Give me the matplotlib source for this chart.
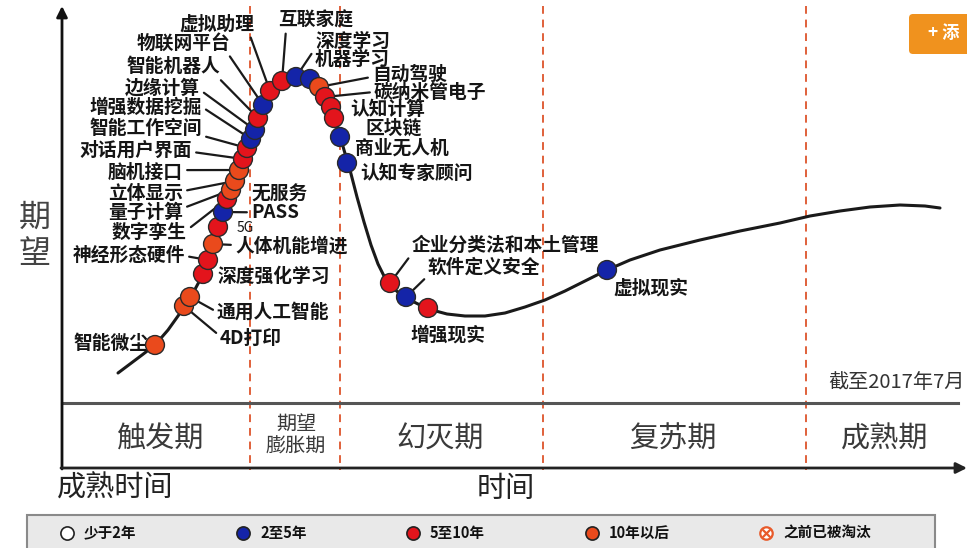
import matplotlib
matplotlib.use("Agg")
import matplotlib.pyplot as plt
from matplotlib.patches import Rectangle, FancyBboxPatch

plt.rcParams['font.family'] = ['Noto Sans CJK SC', 'DejaVu Sans']

# 曲线（时间, 期望）
curve_t = [118, 130, 142, 155, 168, 178, 186, 193, 200, 206, 212, 218, 224, 230,
           236, 242, 248, 254, 260, 266, 273, 281, 290, 298, 306, 314, 320, 326,
           331, 335, 339, 344, 350, 357, 364, 371, 378, 385, 392, 400, 410, 420,
           432, 447, 465, 485, 505, 525, 545, 565, 585, 607, 630, 660, 700, 740,
           780, 810, 840, 870, 900, 925, 940]
curve_e = [373, 364, 355, 345, 330, 316, 304, 293, 280, 266, 247, 228, 210, 195,
           180, 164, 146, 128, 112, 98, 88, 81, 77, 75, 76, 80, 86, 97,
           107, 118, 132, 150, 170, 197, 222, 245, 264, 278, 287, 294, 300, 305,
           310, 314, 316, 316, 313, 307, 300, 291, 281, 270, 260, 250, 240, 231,
           223, 216, 211, 207, 205, 206, 208]

# 技术点
tech_names = ['智能微尘', '4D打印', '通用人工智能', '深度强化学习', '神经形态硬件',
              '人体机能增进', '5G', '无服务\nPASS', '数字孪生', '量子计算', '立体显示',
              '脑机接口', '对话用户界面', '智能工作空间', '增强数据挖掘', '边缘计算',
              '智能机器人', '物联网平台', '虚拟助理', '互联家庭', '深度学习', '机器学习',
              '自动驾驶', '碳纳米管电子', '认知计算', '区块链', '商业无人机',
              '认知专家顾问', '企业分类法和本土管理', '软件定义安全', '增强现实', '虚拟现实']
tech_t = [155, 184, 190, 203, 208, 213, 218, 223, 227, 231, 235, 239, 243, 247,
          251, 255, 258, 263, 270, 282, 296, 310, 319, 325, 331, 334, 340, 347,
          390, 406, 428, 607]
tech_e = [345, 306, 297, 274, 260, 244, 227, 212, 199, 190, 181, 170, 159, 148,
          139, 130, 118, 105, 91, 81, 77, 79, 87, 97, 107, 118, 137, 163,
          283, 297, 308, 270]
tech_cat = ['10', '10', '10', '5', '5', '10', '5', '2', '5', '10', '10', '10', '5', '5',
            '2', '2', '5', '2', '5', '5', '2', '2', '10', '5', '5', '5', '2', '2',
            '5', '2', '5', '2']

# 标签排版 (x, y, ha, 引线起点relpos 或 None)
label_layout = [
    (148, 343, 'right', None),
    (220, 338, 'left', (0, 0.6)),
    (217, 312, 'left', (0, 0.5)),
    (217, 276, 'left', None),
    (185, 255, 'right', (1, 0.45)),
    (235, 246, 'left', (0, 0.55)),
    (237, 228, 'left', None),
    (251, 203, 'left', (0, 0.25)),
    (187, 232, 'right', (1, 0.6)),
    (183, 212, 'right', (1, 0.7)),
    (183, 193, 'right', (1, 0.6)),
    (183, 172, 'right', (1, 0.6)),
    (192, 150, 'right', (1, 0.4)),
    (202, 128, 'right', (1, 0.1)),
    (202, 107, 'right', (1, 0.5)),
    (200, 88, 'right', (1, 0.4)),
    (220, 67, 'right', (0.97, 0.0)),
    (230, 43, 'right', (0.97, 0.0)),
    (217, 24, 'center', (0.93, 0.0)),
    (316, 20, 'center', (0.1, 0.0)),
    (315, 41, 'left', (0, 0.1)),
    (315, 59, 'left', None),
    (372, 74, 'left', (0, 0.35)),
    (374, 92, 'left', (0, 0.5)),
    (350, 109, 'left', None),
    (365, 128, 'left', None),
    (355, 148, 'left', None),
    (360, 173, 'left', None),
    (412, 245, 'left', (0.0, 0.05)),
    (428, 267, 'left', (0.0, 0.05)),
    (410, 335, 'left', None),
    (613, 288, 'left', None),
]

cat_colors = {'2': '#1424a8', '5': '#e3141c', '10': '#ea4a1c'}

phase_bounds = [250, 340, 543, 806]
phase_names = ['触发期', '期望\n膨胀期', '幻灭期', '复苏期', '成熟期']
phase_centers = [160, 296, 440, 673, 885]

legend_labels = ['少于2年', '2至5年', '5至10年', '10年以后', '之前已被淘汰']
legend_faces = ['white', '#1424a8', '#e3141c', '#ea4a1c', 'white']

fig = plt.figure(figsize=(9.67, 5.48), dpi=100)
ax = fig.add_axes([0, 0, 1, 1])
ax.set_xlim(0, 967)
ax.set_ylim(548, 0)
ax.axis('off')

# 阶段分隔虚线
for b in phase_bounds:
    ax.plot([b, b], [6, 470], color='#e0603a', lw=1.4, ls=(0, (4, 3)), zorder=1)

# 坐标轴
ax.annotate('', xy=(62, 6), xytext=(62, 469),
            arrowprops=dict(arrowstyle='-|>', lw=2, color='#111', mutation_scale=16,
                            shrinkA=0, shrinkB=0))
ax.annotate('', xy=(967, 468), xytext=(61, 468),
            arrowprops=dict(arrowstyle='-|>', lw=2, color='#222', mutation_scale=16,
                            shrinkA=0, shrinkB=0))
ax.plot([62, 958], [403, 403], color='#555', lw=2.2, zorder=2)

# 曲线
ax.plot(curve_t, curve_e, color='#1a1a1a', lw=2.2, zorder=3, solid_capstyle='round')

# 点和标签
for i, name in enumerate(tech_names):
    lx, ly, ha, rp = label_layout[i]
    fs = 10 if name == '5G' else 13.5
    fw = 'normal' if name == '5G' else 'bold'
    if rp is not None:
        ax.annotate(name, xy=(tech_t[i], tech_e[i]), xytext=(lx, ly),
                    ha=ha, va='center', fontsize=fs, fontweight=fw, color='#151515',
                    linespacing=0.95, zorder=4,
                    arrowprops=dict(arrowstyle='-', lw=1.6, color='#1a1a1a',
                                    relpos=rp, shrinkA=1, shrinkB=0))
    else:
        ax.text(lx, ly, name, ha=ha, va='center', fontsize=fs, fontweight=fw,
                color='#151515', zorder=4)
ax.scatter(tech_t, tech_e, s=185, c=[cat_colors[c] for c in tech_cat],
           edgecolors='#2a2a2a', linewidths=1.0, zorder=5)

# 阶段名称
for name, cx in zip(phase_names, phase_centers):
    if '\n' in name:
        ax.text(cx, 436, name, ha='center', va='center', fontsize=14.5,
                color='#3a3a3a', linespacing=1.1, fontweight='light')
    else:
        ax.text(cx, 440, name, ha='center', va='center', fontsize=21,
                color='#3a3a3a', fontweight='light')

ax.text(35, 236, '期\n望', ha='center', va='center', fontsize=23, color='#444',
        linespacing=1.15, fontweight='light')
ax.text(57, 489, '成熟时间', ha='left', va='center', fontsize=21, color='#222',
        fontweight='light')
ax.text(506, 489, '时间', ha='center', va='center', fontsize=21, color='#222',
        fontweight='light')
ax.text(965, 382, '截至2017年7月', ha='right', va='center', fontsize=14.5,
        color='#333', fontweight='light')

# 图例
ax.add_patch(Rectangle((27, 515), 908, 40, facecolor='#e9e9e9', edgecolor='#8a8a8a',
                       lw=1.5, zorder=2))
legend_x = [67, 243, 413, 592, 766]
for lxp, lab, fc in zip(legend_x, legend_labels, legend_faces):
    if lab == '之前已被淘汰':
        ax.scatter([lxp], [533], s=80, facecolors='white', edgecolors='#e85a2a',
                   linewidths=1.6, zorder=3)
        ax.scatter([lxp], [533], s=30, marker='x', color='#e85a2a', linewidths=1.6, zorder=4)
    else:
        ax.scatter([lxp], [533], s=90, facecolors=fc, edgecolors='#222',
                   linewidths=1.2, zorder=3)
    ax.text(lxp + 17, 533, lab, ha='left', va='center', fontsize=10.5,
            fontweight='bold', color='#111', zorder=4)

# 右上角按钮
ax.add_patch(FancyBboxPatch((909, 14), 70, 40, boxstyle='round,pad=0,rounding_size=4',
                            facecolor='#f0921e', edgecolor='none', zorder=2))
ax.text(928, 33, '+ 添', ha='left', va='center', fontsize=12.5, color='white',
        fontweight='bold', zorder=3)

fig.savefig('out.png', dpi=100)
